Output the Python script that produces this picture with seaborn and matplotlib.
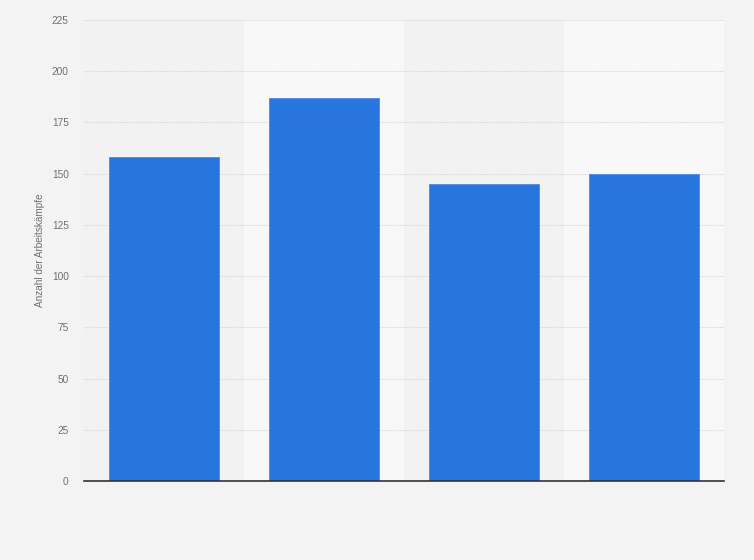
import matplotlib
matplotlib.use("Agg")
import matplotlib.pyplot as plt
import seaborn as sns
import pandas as pd

categories = ["A", "B", "C", "D"]
values = [158, 187, 145, 150]
yticks = [0, 25, 50, 75, 100, 125, 150, 175, 200, 225]
ylabel = "Anzahl der Arbeitskämpfe"

df = pd.DataFrame({"cat": categories, "val": values})

sns.set_style("white")
plt.rcParams['font.family'] = ['Liberation Sans', 'DejaVu Sans']

fig = plt.figure(figsize=(7.54, 5.6), dpi=100, facecolor="#f3f3f3")
ax = fig.add_axes([84/754, 79/560, 640/754, 461/560])
ax.set_facecolor("#f2f2f2")

# alternating background bands
for i in range(len(categories)):
    if i % 2 == 1:
        ax.axvspan(i - 0.5, i + 0.5, color="#f8f8f8", zorder=0, lw=0)

sns.barplot(data=df, x="cat", y="val", color="#2876dd", width=0.69,
            saturation=1, ax=ax, zorder=3, edgecolor="#4a8ae6", linewidth=0.6)

ax.set_xlim(-0.5, len(categories) - 0.5)
ax.set_ylim(0, 225)
ax.set_yticks(yticks)
ax.set_yticklabels([str(t) for t in yticks], fontsize=7.3, color="#707070")
ax.tick_params(axis="y", length=0, pad=11)
ax.set_xticks(range(len(categories)))
ax.set_xticklabels([""] * len(categories))
ax.tick_params(axis="x", length=0)
ax.set_xlabel("")
ax.set_ylabel(ylabel, fontsize=7.2, color="#707070", labelpad=5)

ax.yaxis.grid(True, color="#d6d6d6", linestyle=(0, (1, 1)), linewidth=0.8, zorder=1)
ax.set_axisbelow(True)
for s in ["top", "right", "left"]:
    ax.spines[s].set_visible(False)
ax.spines["bottom"].set_color("#333333")
ax.spines["bottom"].set_linewidth(1.2)
ax.spines["bottom"].set_zorder(5)

fig.savefig("out.png", dpi=100, facecolor=fig.get_facecolor())
